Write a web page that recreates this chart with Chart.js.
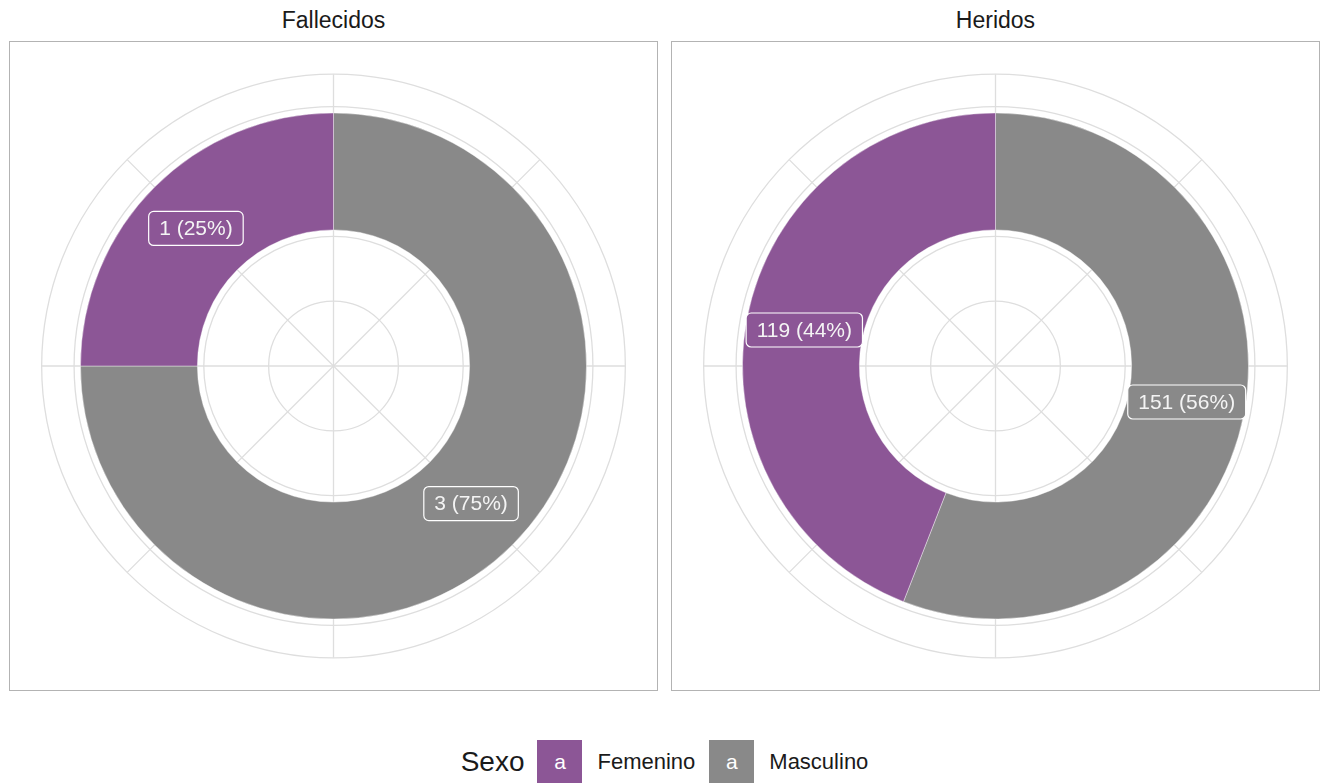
<!DOCTYPE html>
<html lang="es">
<head>
    <meta charset="UTF-8">
    <title>Víctimas por sexo</title>
    <script src="https://cdn.jsdelivr.net/npm/chart.js"></script>
    <style>
        body {
            margin: 0;
            width: 1325px;
            height: 783px;
            overflow: hidden;
            background: #ffffff;
            font-family: "Liberation Sans", Arial, sans-serif;
            position: relative;
        }
        .strip {
            position: absolute;
            top: 7px;
            width: 649px;
            text-align: center;
            font-size: 23px;
            color: #1a1a1a;
        }
        .panel {
            position: absolute;
            top: 41px;
            width: 649px;
            height: 650px;
            border: 1px solid #b3b3b3;
            box-sizing: border-box;
        }
        .panel canvas {
            display: block;
        }
        .legend {
            position: absolute;
            left: 18px;
            right: 0;
            top: 740px;
            height: 44px;
            display: flex;
            justify-content: center;
            align-items: center;
            color: #1a1a1a;
        }
        .legend .title {
            font-size: 28px;
            margin-right: 13px;
        }
        .legend .key {
            width: 45px;
            height: 44px;
            color: #ffffff;
            font-size: 21px;
            display: flex;
            align-items: center;
            justify-content: center;
            margin-right: 15px;
        }
        .legend .label {
            font-size: 22px;
            margin-right: 14px;
        }
    </style>
</head>
<body>
    <div class="strip" style="left:9px">Fallecidos</div>
    <div class="strip" style="left:671px">Heridos</div>
    <div class="panel" style="left:9px"><canvas id="fallecidosChart" width="647" height="648"></canvas></div>
    <div class="panel" style="left:671px"><canvas id="heridosChart" width="647" height="648"></canvas></div>
    <div class="legend" id="legend"></div>

    <script>
        // datos por sexo
        const sexos = ["Femenino", "Masculino"];
        const colores = ["#8c5696", "#898989"];
        const fallecidos = [1, 3];
        const heridos = [119, 151];

        // el anillo empieza arriba con Masculino y sigue en sentido horario
        const orden = [1, 0];

        // rejilla polar: círculos y radios por debajo del anillo
        const polarGrid = {
            id: "polarGrid",
            beforeDatasetsDraw(chart) {
                const arc = chart.getDatasetMeta(0).data[0];
                if (!arc) return;
                const cx = arc.x, cy = arc.y;
                const unit = (arc.innerRadius + arc.outerRadius) / 6;
                const ctx = chart.ctx;
                ctx.save();
                ctx.strokeStyle = "#dedede";
                ctx.lineWidth = 1.3;
                [1, 2, 3, 4, 4.5].forEach(k => {
                    ctx.beginPath();
                    ctx.arc(cx, cy, unit * k, 0, Math.PI * 2);
                    ctx.stroke();
                });
                for (let i = 0; i < 8; i++) {
                    const a = i * Math.PI / 4;
                    ctx.beginPath();
                    ctx.moveTo(cx, cy);
                    ctx.lineTo(cx + Math.cos(a) * unit * 4.5, cy + Math.sin(a) * unit * 4.5);
                    ctx.stroke();
                }
                ctx.restore();
            }
        };

        // etiquetas "n (pct%)" en el centro de cada sector
        const sliceLabels = {
            id: "sliceLabels",
            afterDatasetsDraw(chart) {
                const ds = chart.data.datasets[0];
                const total = ds.data.reduce((a, b) => a + b, 0);
                const ctx = chart.ctx;
                ctx.save();
                ctx.font = "21px 'Liberation Sans', Arial, sans-serif";
                ctx.textAlign = "center";
                ctx.textBaseline = "middle";
                chart.getDatasetMeta(0).data.forEach((arc, i) => {
                    const p = arc.getProps(["x", "y", "startAngle", "endAngle", "innerRadius", "outerRadius"], true);
                    const mid = (p.startAngle + p.endAngle) / 2;
                    const r = (p.innerRadius + p.outerRadius) / 2;
                    const x = p.x + Math.cos(mid) * r;
                    const y = p.y + Math.sin(mid) * r;
                    const value = ds.data[i];
                    const text = value + " (" + Math.round(value / total * 100) + "%)";
                    const w = ctx.measureText(text).width + 21;
                    const h = 34;
                    ctx.beginPath();
                    ctx.roundRect(x - w / 2, y - h / 2, w, h, 5);
                    ctx.fillStyle = ds.backgroundColor[i];
                    ctx.fill();
                    ctx.strokeStyle = "#ffffff";
                    ctx.lineWidth = 1.2;
                    ctx.stroke();
                    ctx.fillStyle = "#f4f4f4";
                    ctx.fillText(text, x, y + 1);
                });
                ctx.restore();
            }
        };

        function donut(id, valores) {
            return new Chart(document.getElementById(id), {
                type: "doughnut",
                data: {
                    labels: orden.map(i => sexos[i]),
                    datasets: [{
                        data: orden.map(i => valores[i]),
                        backgroundColor: orden.map(i => colores[i]),
                        borderColor: "#ffffff",
                        borderWidth: 0.4
                    }]
                },
                options: {
                    responsive: false,
                    animation: false,
                    radius: 253,
                    cutout: "53.8%",
                    rotation: 0,
                    layout: { padding: 0 },
                    plugins: {
                        legend: { display: false },
                        tooltip: { enabled: false }
                    }
                },
                plugins: [polarGrid, sliceLabels]
            });
        }

        donut("fallecidosChart", fallecidos);
        donut("heridosChart", heridos);

        // leyenda inferior
        const legend = document.getElementById("legend");
        legend.innerHTML = '<span class="title">Sexo</span>' + sexos.map((s, i) =>
            '<span class="key" style="background:' + colores[i] + '">a</span><span class="label">' + s + '</span>'
        ).join("");
    </script>
</body>
</html>
